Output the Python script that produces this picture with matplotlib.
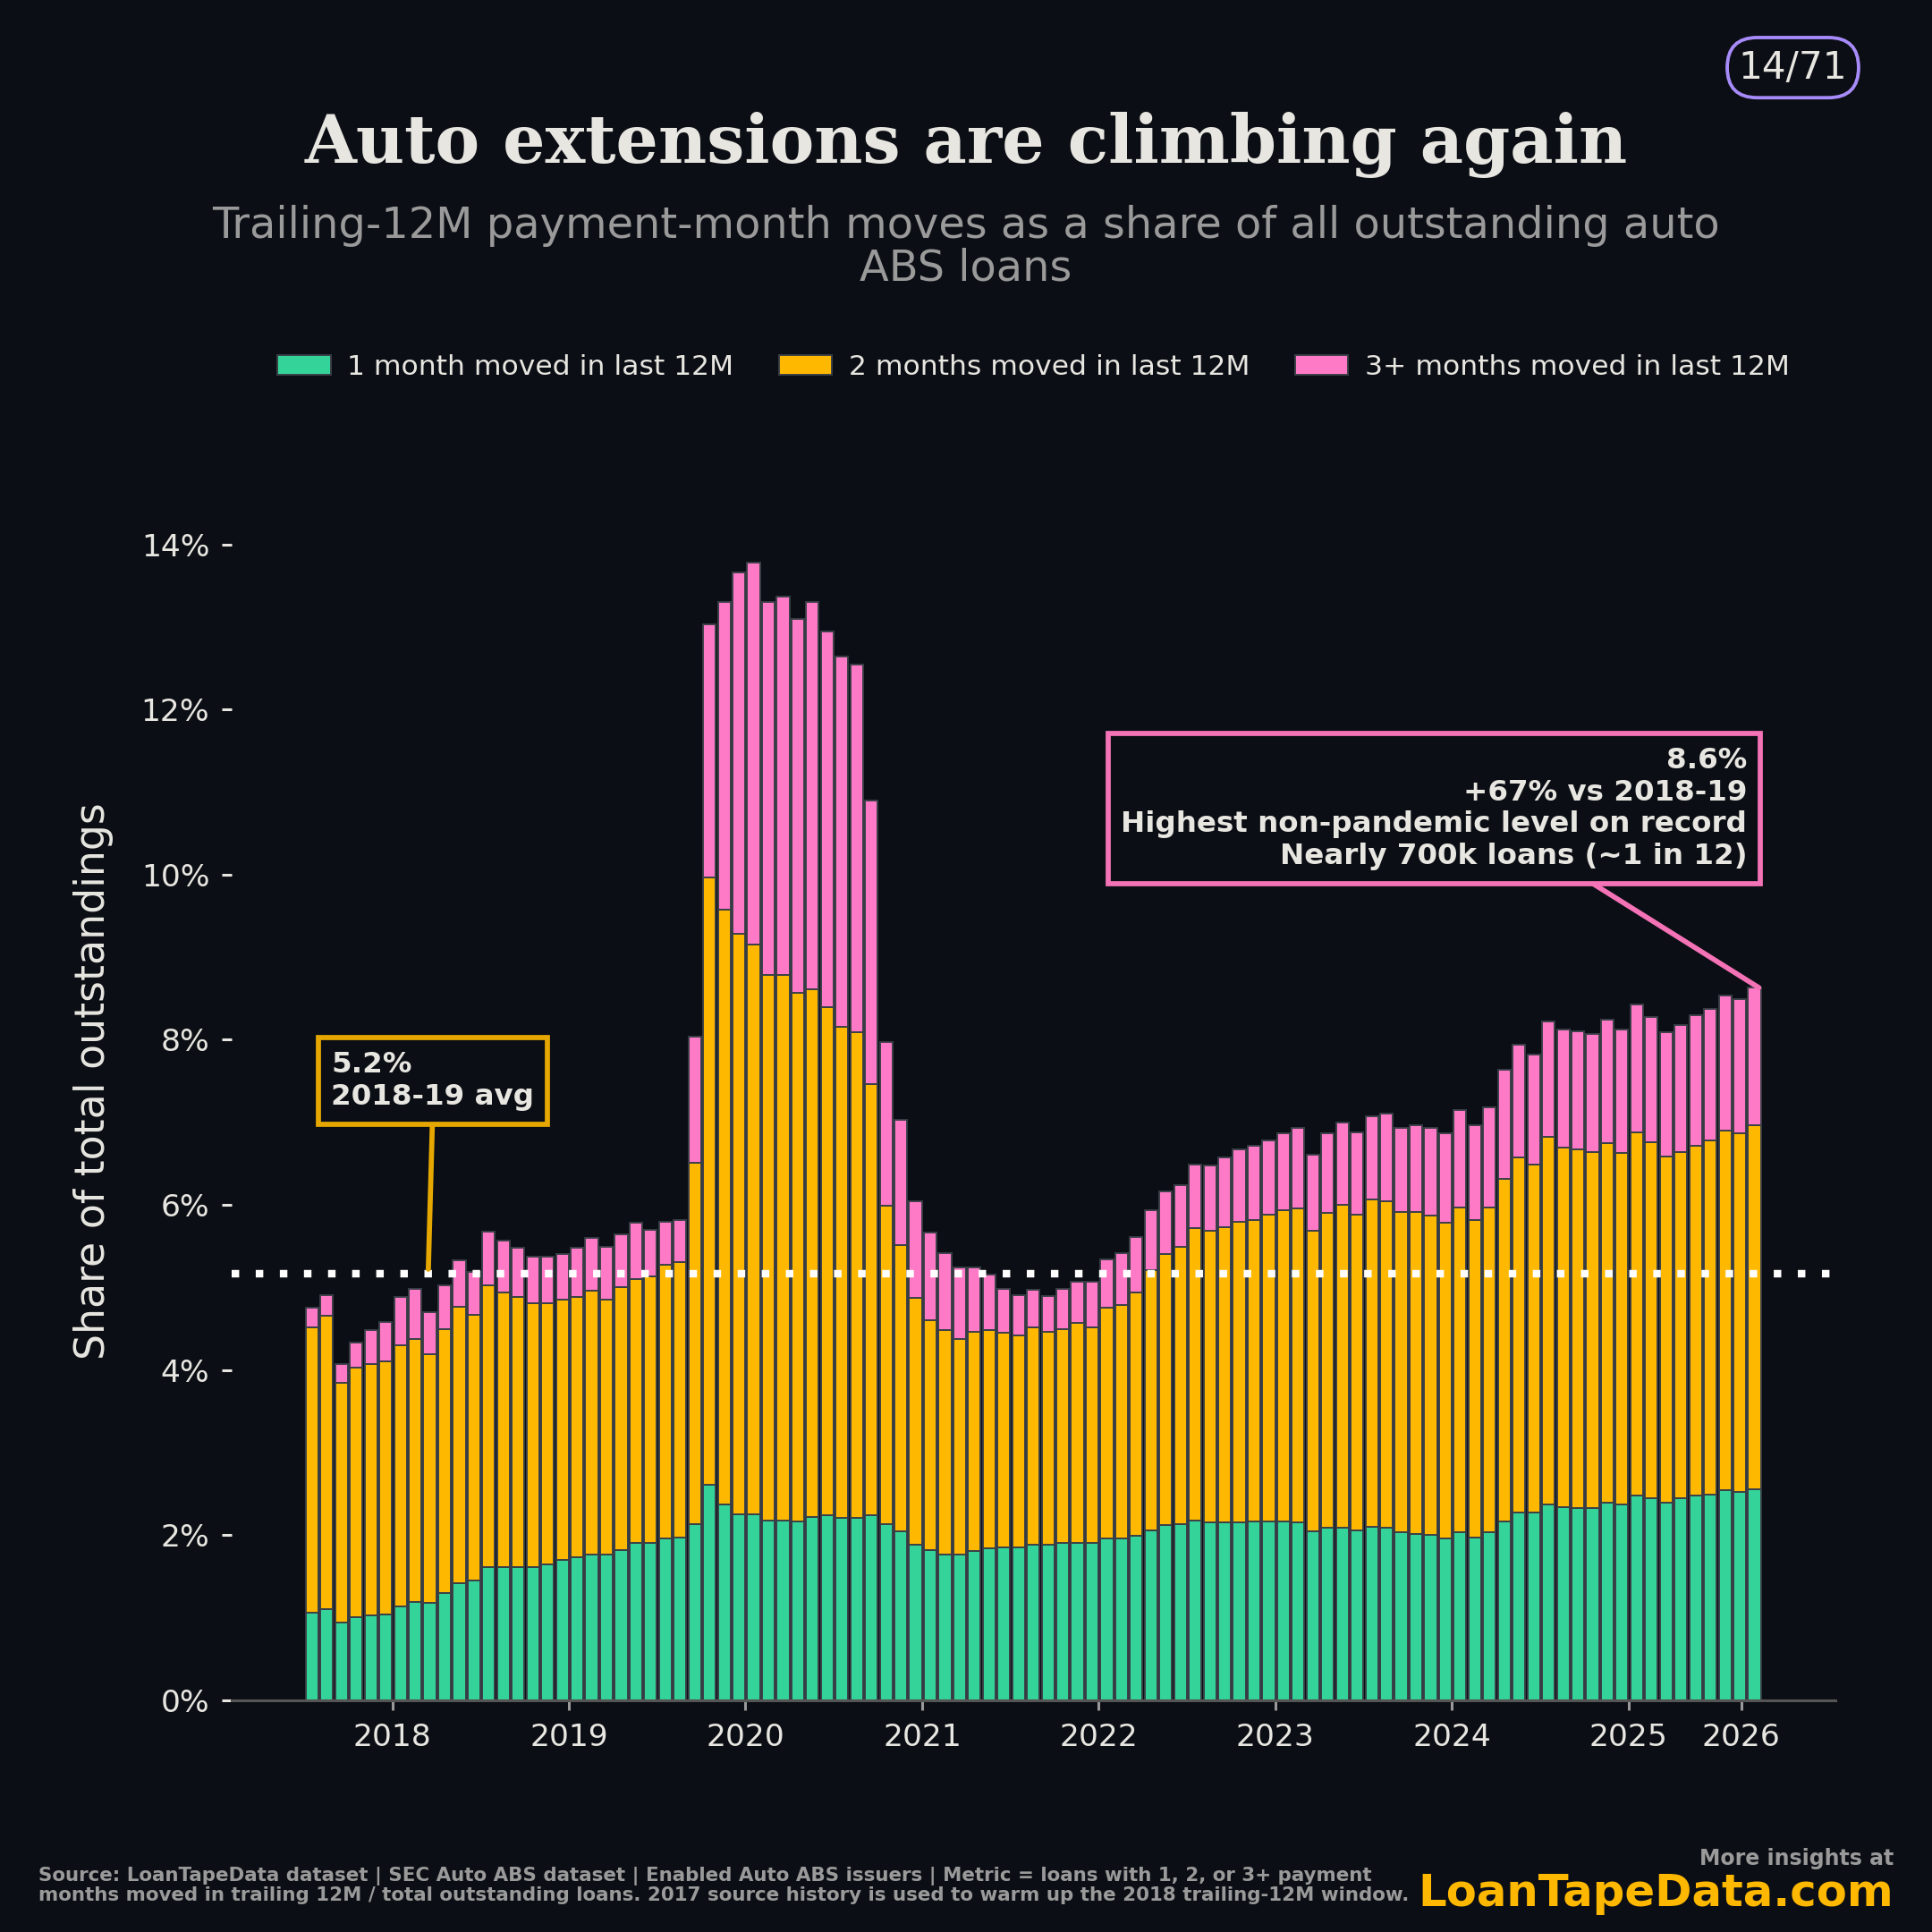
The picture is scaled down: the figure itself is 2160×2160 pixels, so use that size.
import matplotlib
matplotlib.use("Agg")
import matplotlib.pyplot as plt
import numpy as np
from matplotlib.patches import FancyBboxPatch

# cumulative levels (% of outstanding)
one_month = [1.06,1.10,0.94,1.00,1.03,1.04,1.13,1.19,1.18,1.30,1.42,1.45,1.61,1.61,1.61,1.61,1.64,1.70,1.73,1.76,
             1.76,1.82,1.90,1.90,1.96,1.97,2.13,2.61,2.37,2.25,2.25,2.18,2.18,2.16,2.22,2.24,2.21,2.21,2.24,2.13,
             2.04,1.88,1.82,1.76,1.76,1.81,1.84,1.85,1.85,1.88,1.88,1.90,1.90,1.90,1.96,1.96,1.99,2.06,2.12,2.13,
             2.18,2.15,2.15,2.15,2.16,2.16,2.16,2.15,2.04,2.09,2.09,2.06,2.10,2.09,2.03,2.01,2.00,1.96,2.03,1.97,
             2.03,2.16,2.27,2.27,2.37,2.34,2.33,2.33,2.39,2.37,2.48,2.45,2.39,2.45,2.48,2.49,2.54,2.52,2.55]
one_two_top = [4.52,4.66,3.84,4.03,4.07,4.10,4.30,4.37,4.19,4.49,4.76,4.67,5.03,4.94,4.88,4.81,4.81,4.85,4.88,4.96,
               4.85,5.00,5.10,5.13,5.27,5.31,6.51,9.96,9.58,9.28,9.15,8.78,8.78,8.57,8.61,8.39,8.16,8.09,7.46,5.99,
               5.51,4.87,4.60,4.48,4.37,4.46,4.48,4.45,4.42,4.52,4.46,4.49,4.57,4.52,4.75,4.79,4.94,5.21,5.40,5.49,
               5.72,5.69,5.73,5.79,5.82,5.88,5.93,5.96,5.69,5.90,6.00,5.88,6.06,6.04,5.91,5.91,5.87,5.78,5.97,5.82,
               5.97,6.31,6.57,6.49,6.82,6.69,6.67,6.64,6.75,6.63,6.88,6.76,6.58,6.64,6.72,6.78,6.90,6.87,6.96]
total = [4.75,4.91,4.07,4.33,4.48,4.58,4.88,4.98,4.70,5.03,5.33,5.19,5.67,5.57,5.48,5.37,5.37,5.40,5.48,5.60,
         5.49,5.64,5.78,5.70,5.79,5.82,8.04,13.03,13.30,13.66,13.78,13.30,13.37,13.10,13.30,12.94,12.64,12.54,10.90,7.97,
         7.03,6.04,5.66,5.42,5.24,5.24,5.15,4.98,4.91,4.97,4.90,4.98,5.07,5.07,5.34,5.42,5.61,5.94,6.16,6.24,
         6.49,6.48,6.57,6.67,6.72,6.78,6.87,6.93,6.61,6.87,7.00,6.88,7.07,7.10,6.93,6.96,6.93,6.87,7.15,6.96,
         7.18,7.64,7.94,7.82,8.22,8.12,8.10,8.07,8.24,8.12,8.43,8.28,8.09,8.18,8.30,8.37,8.54,8.49,8.63]
year_labels = ["2018","2019","2020","2021","2022","2023","2024","2025","2026"]
year_pos = [5.45,17.45,29.45,41.45,53.45,65.45,77.45,89.45,97.1]
avg_1819 = 5.17

one = np.array(one_month)
two = np.array(one_two_top) - one
three = np.array(total) - np.array(one_two_top)
x = np.arange(len(one))

BG = "#0B0E14"; GREEN = "#34D399"; YEL = "#FFB800"; PINK = "#FF7AC6"; TXT = "#E8E6E1"; GREY = "#9A9A9A"
fig = plt.figure(figsize=(7.84, 7.84), dpi=2160/7.84, facecolor=BG)
ax = fig.add_axes([0.12, 0.12, 0.83, 0.641], facecolor=BG)
kw = dict(width=0.86, edgecolor="#3a3f47", linewidth=0.5)
ax.bar(x, one, color=GREEN, label="1 month moved in last 12M", **kw)
ax.bar(x, two, bottom=one, color=YEL, label="2 months moved in last 12M", **kw)
ax.bar(x, three, bottom=one + two, color=PINK, label="3+ months moved in last 12M", **kw)
ax.axhline(avg_1819, color="white", ls=(0, (1, 2.2)), lw=2.2, zorder=3)
ax.set_xlim(-5.45, 103.5)
ax.set_ylim(0, 15)
ax.set_yticks(range(0, 15, 2))
ax.set_yticklabels([f"{v}%" for v in range(0, 15, 2)])
ax.set_xticks(year_pos)
ax.set_xticklabels(year_labels)
for s in ["top", "right", "left"]:
    ax.spines[s].set_visible(False)
ax.spines["bottom"].set_color("#555")
ax.tick_params(colors=TXT, labelsize=9, length=3)
ax.tick_params(axis="x", colors="#999")
for t in ax.get_xticklabels() + ax.get_yticklabels():
    t.set_color(TXT)
ax.set_ylabel("Share of total outstandings", color=TXT, fontsize=12, labelpad=8)

ax.annotate("5.2%\n2018-19 avg", xy=(7.9, avg_1819 + 0.05), xytext=(1.3, 7.5),
            color=TXT, fontsize=8.5, fontweight="bold", ha="left", va="center",
            bbox=dict(boxstyle="square,pad=0.45", fc=BG, ec="#E6A800", lw=1.5),
            arrowprops=dict(arrowstyle="-", color="#E6A800", lw=1.5, shrinkA=0, shrinkB=0,
                            relpos=(0.5, 0)))
ax.annotate("8.6%\n+67% vs 2018-19\nHighest non-pandemic level on record\nNearly 700k loans (~1 in 12)",
            xy=(98.3, total[-1]), xytext=(97.5, 10.8),
            color=TXT, fontsize=8.5, fontweight="bold", ha="right", va="center",
            bbox=dict(boxstyle="square,pad=0.45", fc=BG, ec="#F472B6", lw=1.5),
            arrowprops=dict(arrowstyle="-", color="#F472B6", lw=1.5, shrinkA=0, shrinkB=0,
                            relpos=(0.72, 0)))

leg = fig.legend(loc="center", bbox_to_anchor=(0.535, 0.81), ncol=3, frameon=False,
                 fontsize=8.2, handlelength=1.9, columnspacing=1.6, handletextpad=0.6)
for t in leg.get_texts():
    t.set_color(TXT)

fig.text(0.5, 0.925, "Auto extensions are climbing again", ha="center", va="center",
         family="DejaVu Serif", fontweight="bold", fontsize=19.5, color=TXT)
fig.text(0.5, 0.872, "Trailing-12M payment-month moves as a share of all outstanding auto\nABS loans",
         ha="center", va="center", fontsize=12.5, color=GREY, linespacing=1.0)
fig.text(0.928, 0.965, "14/71", ha="center", va="center", fontsize=11, color=TXT,
         bbox=dict(boxstyle="round,pad=0.3,rounding_size=0.8", fc=BG, ec="#A78BFA", lw=1))
fig.text(0.02, 0.024, "Source: LoanTapeData dataset | SEC Auto ABS dataset | Enabled Auto ABS issuers | Metric = loans with 1, 2, or 3+ payment\n"
         "months moved in trailing 12M / total outstanding loans. 2017 source history is used to warm up the 2018 trailing-12M window.",
         ha="left", va="center", fontsize=5.6, color=GREY, fontweight="bold", linespacing=1.1)
fig.text(0.98, 0.038, "More insights at", ha="right", va="center", fontsize=6.2, color=GREY, fontweight="bold")
fig.text(0.98, 0.02, "LoanTapeData.com", ha="right", va="center", fontsize=13, color="#FFB800", fontweight="bold")
fig.savefig("out.png", facecolor=BG)
